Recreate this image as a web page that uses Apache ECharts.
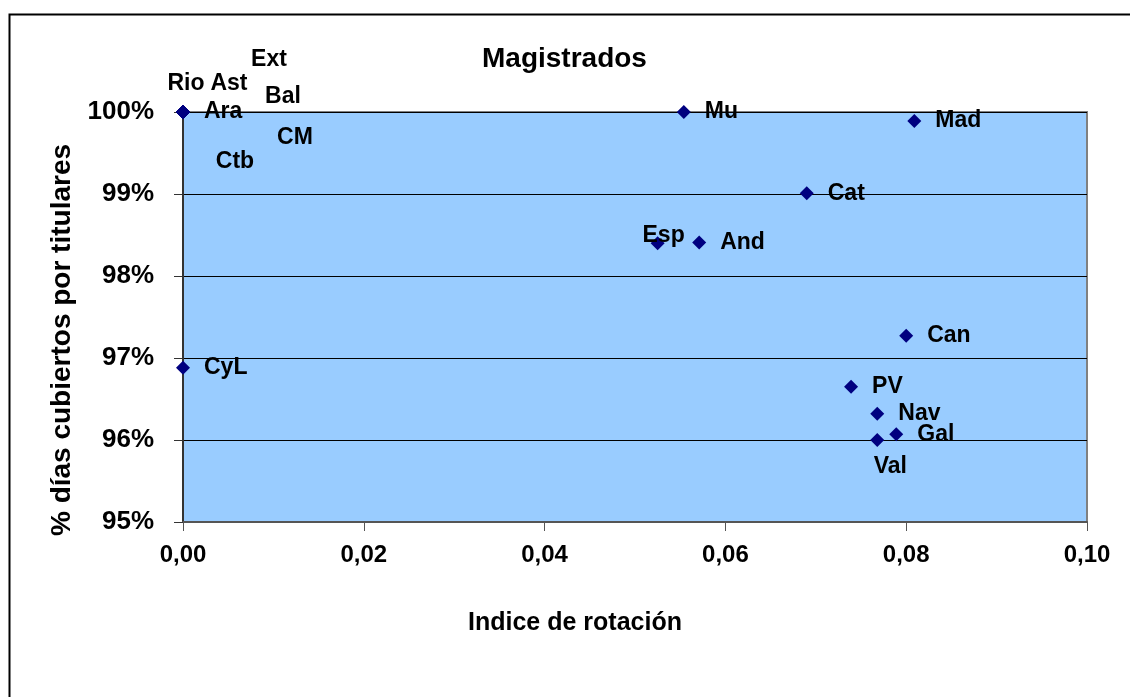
<!DOCTYPE html>
<html>
<head>
<meta charset="utf-8">
<script src="https://cdn.jsdelivr.net/npm/echarts@6/dist/echarts.min.js"></script>
<style>
  html, body { margin: 0; padding: 0; background: #fff; }
  #chart { width: 1130px; height: 697px; }
</style>
</head>
<body>
<div id="chart"></div>
<script>
// data
const regions = ['Rio', 'Ast', 'Ara', 'Ext', 'Bal', 'CM', 'Ctb', 'Mu', 'Mad', 'Cat', 'Esp', 'And', 'Can', 'PV', 'Nav', 'Gal', 'Val', 'CyL'];
const rotation = [0, 0, 0, 0, 0, 0, 0, 0.0554, 0.0809, 0.0690, 0.0525, 0.0571, 0.0800, 0.0739, 0.0768, 0.0789, 0.0768, 0];
const covered = [100, 100, 100, 100, 100, 100, 100, 100, 99.89, 99.01, 98.40, 98.41, 97.27, 96.65, 96.32, 96.07, 96.00, 96.88];
const xTicks = [0, 0.02, 0.04, 0.06, 0.08, 0.10];
const yTicks = [95, 96, 97, 98, 99, 100];

// hand-moved labels (offset of label centre from the marker)
const labelMoves = {
  Rio: [3, -28], Ast: [46, -28], Ext: [86, -52], Bal: [100, -15],
  CM: [112, 26], Ctb: [52, 50], Esp: [6, -8], Val: [13, 27]
};

const font = 'Liberation Sans';

const chart = echarts.init(document.getElementById('chart'));
chart.setOption({
  animation: false,
  title: {
    text: 'Magistrados', left: 477, top: 40,
    textStyle: { fontFamily: font, fontSize: 28, fontWeight: 'bold', color: '#000' }
  },
  graphic: [{
    type: 'rect', left: 7, top: 12, silent: true,
    shape: { width: 1140, height: 700 },
    style: { fill: 'none', stroke: '#000', lineWidth: 2 }
  }],
  grid: {
    left: 183, right: 43, top: 112, bottom: 175,
    show: true, backgroundColor: '#99ccff', borderColor: '#808080', borderWidth: 2
  },
  xAxis: {
    type: 'value', min: xTicks[0], max: xTicks[xTicks.length - 1], interval: 0.02,
    name: 'Indice de rotación', nameLocation: 'middle', nameGap: 89,
    nameTextStyle: { fontFamily: font, fontSize: 25, fontWeight: 'bold', color: '#000', padding: [0, 120, 0, 0] },
    axisLine: { lineStyle: { color: '#555', width: 2 } },
    axisTick: { length: 9, lineStyle: { color: '#555' } },
    splitLine: { show: false },
    axisLabel: {
      margin: 21, fontFamily: font, fontSize: 24, fontWeight: 'bold', color: '#000',
      formatter: v => v.toFixed(2).replace('.', ',')
    }
  },
  yAxis: {
    type: 'value', min: yTicks[0], max: yTicks[yTicks.length - 1], interval: 1,
    name: '% días cubiertos por titulares', nameLocation: 'middle', nameGap: 104,
    nameTextStyle: { fontFamily: font, fontSize: 28, fontWeight: 'bold', color: '#000', padding: [0, 46, 0, 0] },
    axisLine: { show: true, lineStyle: { color: '#333', width: 2 } },
    axisTick: { show: true, length: 9, lineStyle: { color: '#333' } },
    splitLine: { lineStyle: { color: '#000', width: 1 } },
    axisLabel: {
      margin: 29, fontFamily: font, fontSize: 26, fontWeight: 'bold', color: '#000',
      formatter: '{value}%'
    }
  },
  series: [{
    type: 'scatter',
    symbol: 'diamond',
    symbolSize: 14,
    itemStyle: { color: '#000080', opacity: 1 },
    label: {
      show: true, position: 'right', distance: 14,
      fontFamily: font, fontSize: 23, fontWeight: 'bold', color: '#000',
      formatter: p => p.data.name
    },
    data: regions.map((r, i) => {
      const d = { name: r, value: [rotation[i], covered[i]] };
      if (labelMoves[r]) d.label = { position: 'inside', offset: labelMoves[r], align: 'center', verticalAlign: 'middle' };
      return d;
    })
  }]
});
</script>
</body>
</html>
